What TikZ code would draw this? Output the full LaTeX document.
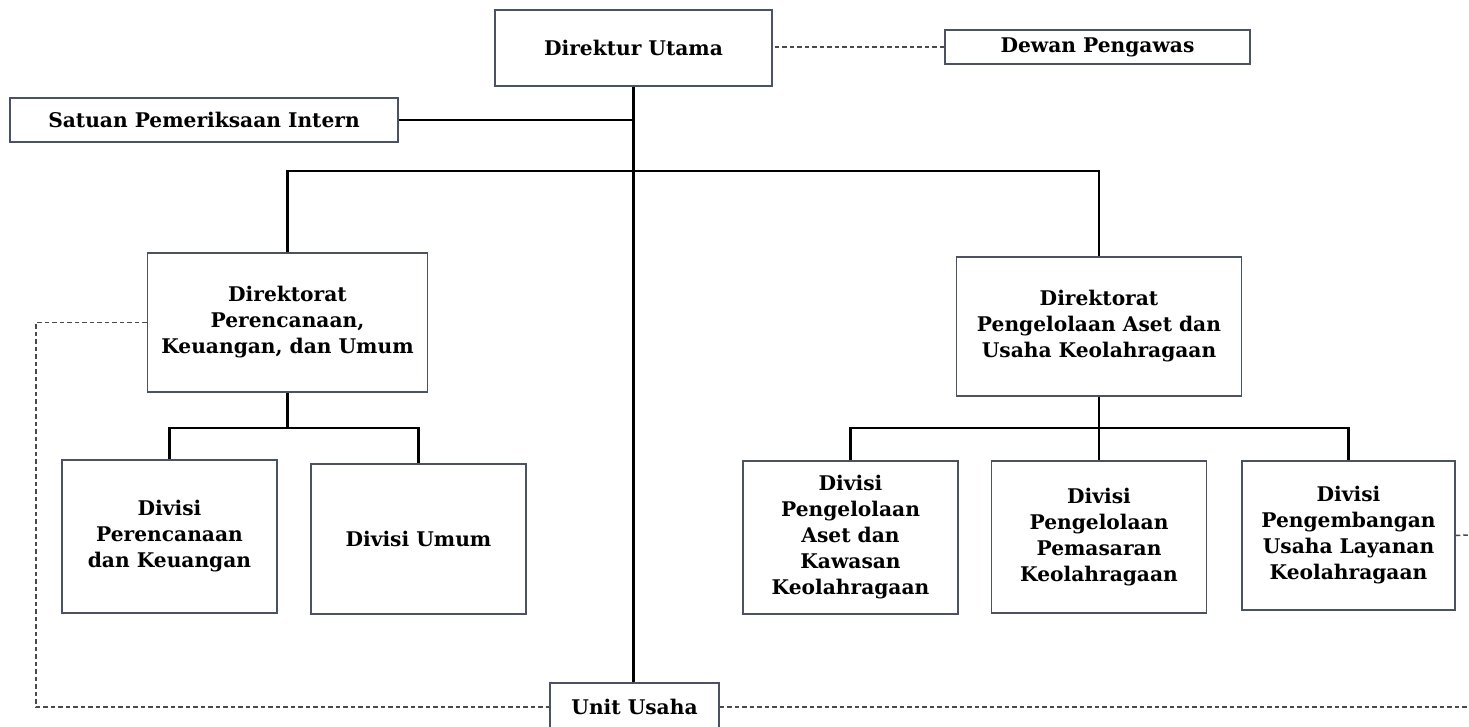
\documentclass[tikz,border=0pt]{standalone}
\usepackage{fontspec}
\setmainfont{DejaVu Serif}
\definecolor{boxline}{HTML}{4B5262}
\definecolor{dashgray}{HTML}{4A4A4A}

\begin{document}
\begin{tikzpicture}[x = 1pt, y = -1pt,
    box/.style = {draw = boxline, line width = 1.5pt, fill = white, align = center, inner sep = 0pt,
        font = \bfseries\fontsize{20.2}{26}\selectfont},
    link/.style = {line width = 2.4pt},
    dashlink/.style = {draw = dashgray, line width = 1.5pt, dash pattern = on 4.5pt off 3pt}]
    \useasboundingbox (0,0) rectangle (1469,726);
    % top level
    \node[box, minimum width = 277pt, minimum height = 76pt] (DU) at (633.5,48) {Direktur Utama};
    \node[box, minimum width = 305pt, minimum height = 34pt] (DP) at (1097.5,47) {Dewan Pengawas};
    \node[box, minimum width = 388pt, minimum height = 44pt] (SPI) at (204,120) {Satuan Pemeriksaan Intern};
    % directorates
    \node[box, minimum width = 280pt, minimum height = 139pt] (DR1) at (287.5,322.5) {Direktorat\\Perencanaan,\\Keuangan, dan Umum};
    \node[box, minimum width = 285pt, minimum height = 139pt] (DR2) at (1099,326.5) {Direktorat\\Pengelolaan Aset dan\\Usaha Keolahragaan};
    % divisions
    \node[box, minimum width = 215pt, minimum height = 153pt] (DV1) at (169.5,536.5) {Divisi\\Perencanaan\\dan Keuangan};
    \node[box, minimum width = 215pt, minimum height = 150pt] (DV2) at (418.5,539) {Divisi Umum};
    \node[box, minimum width = 215pt, minimum height = 153pt] (DV3) at (850.5,537.5) {Divisi\\Pengelolaan\\Aset dan\\Kawasan\\Keolahragaan};
    \node[box, minimum width = 215pt, minimum height = 152pt] (DV4) at (1099,537) {Divisi\\Pengelolaan\\Pemasaran\\Keolahragaan};
    \node[box, minimum width = 213pt, minimum height = 149pt] (DV5) at (1348.5,535.5) {Divisi\\Pengembangan\\Usaha Layanan\\Keolahragaan};
    \node[box, minimum width = 169pt, minimum height = 48pt] (UU) at (634.5,707) {Unit Usaha};
    % junctions and free ends
    \coordinate (BUS) at (633.5,171);
    \coordinate (B1) at (287.5,428);
    \coordinate (B2) at (1099,428);
    \coordinate (E1) at (36,707);
    \coordinate (E2) at (1469,707);
    \coordinate (E3) at (1469,535);

    \draw[link] (DU.south) -- (DU.south |- UU.north);
    \draw[link] (SPI.east) -- (SPI.east -| DU.south);
    \draw[link] (DR1.north) |- (BUS) -| (DR2.north);
    \draw[link] (DR1.south) -- (B1);
    \draw[link] (DV1.north) |- (B1) -| (DV2.north);
    \draw[link] (DR2.south) -- (B2) -- (DV4.north);
    \draw[link] (DV3.north) |- (B2) -| (DV5.north);

    \draw[dashlink] (DP.west) -- (DP.west -| DU.east);
    \draw[dashlink] (DR1.west) -| (E1) -- (UU.west);
    \draw[dashlink] (UU.east) -- (E2);
    \draw[dashlink] (DV5.east) -- (E3);
\end{tikzpicture}
\end{document}
